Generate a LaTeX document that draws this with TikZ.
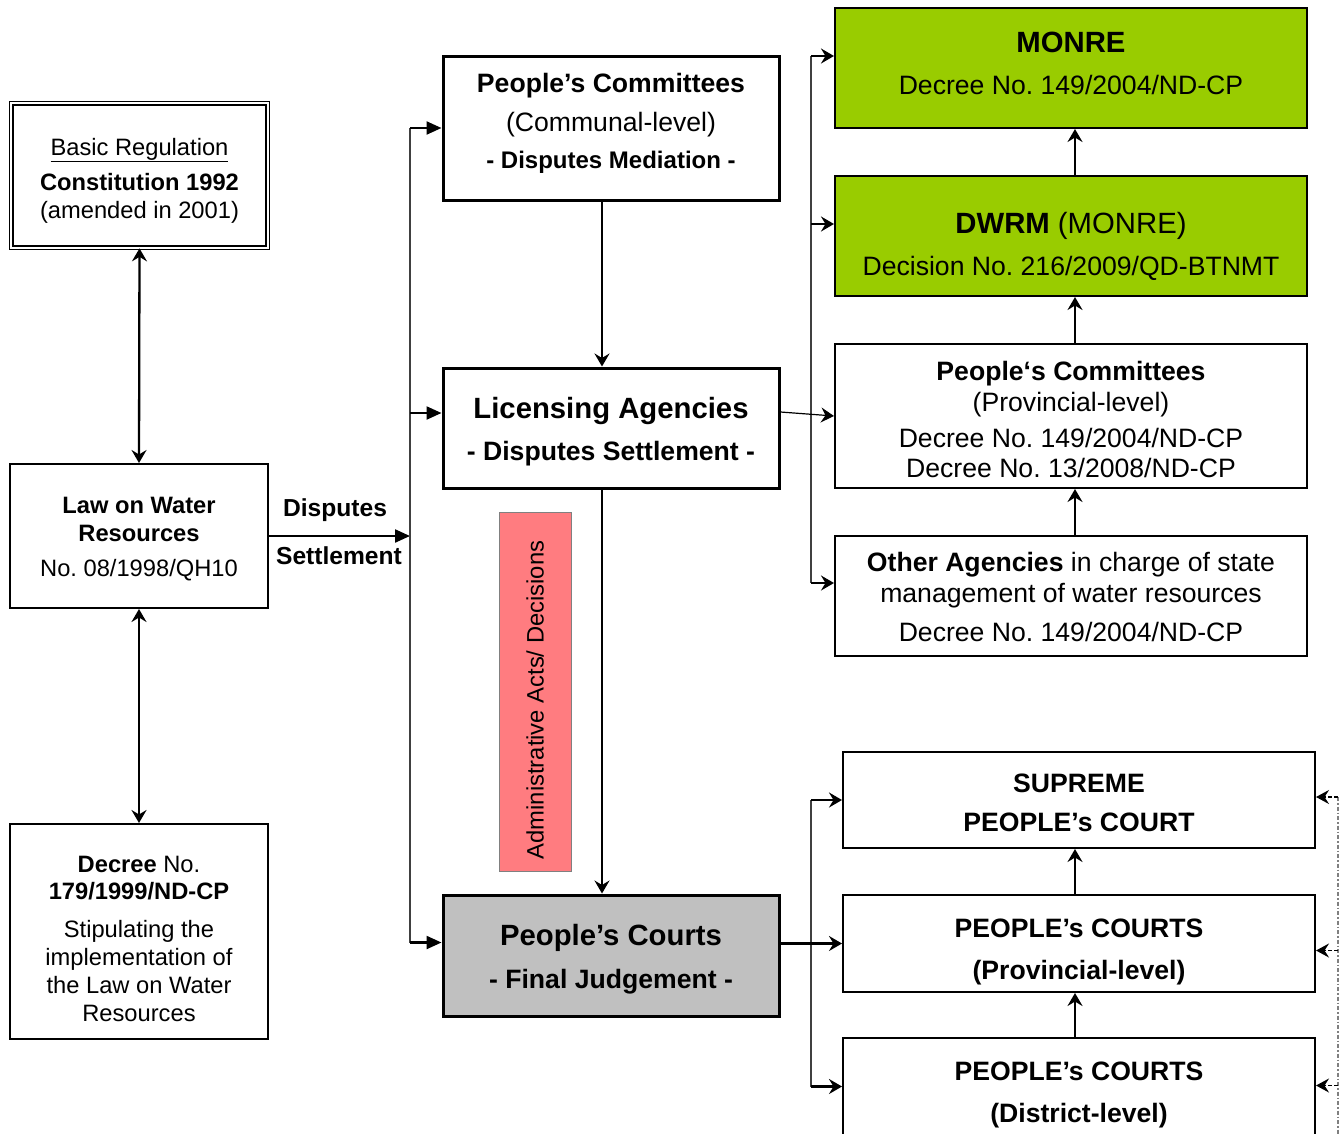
\documentclass[tikz,border=0pt]{standalone}
\usepackage{fontspec}
\setmainfont{Liberation Sans}
\usetikzlibrary{arrows.meta,calc}
\definecolor{grn}{HTML}{99CC00}
\definecolor{salmon}{HTML}{FF7C80}
\definecolor{cgray}{HTML}{C0C0C0}
\definecolor{busgray}{HTML}{404040}
\newcommand{\fsz}[2]{\fontsize{#1}{#2}\selectfont}
\begin{document}
\frenchspacing
\begin{tikzpicture}[x=1pt,y=-1pt,
  lbox/.style={draw, line width=2pt, inner sep=0pt, minimum width=258pt},
  mbox/.style={draw, line width=3pt, inner sep=0pt, minimum width=336pt},
  rbox/.style={draw, line width=2pt, inner sep=0pt, minimum width=472pt},
  ltxt/.style={align=center, inner sep=0pt, font=\fsz{23.7}{28}},
  mtxt/.style={align=center, inner sep=0pt, font=\fsz{26.6}{32}},
  rtxt/.style={align=center, inner sep=0pt, font=\fsz{26.6}{30}},
  conn/.style={line width=2.3pt, -{Stealth[length=13pt,width=15pt,inset=4.5pt]}},
  dconn/.style={line width=2.3pt, {Stealth[length=13pt,width=15pt,inset=4.5pt]}-{Stealth[length=13pt,width=15pt,inset=4.5pt]}},
  busarr/.style={line width=2.3pt, -{Triangle[length=15pt,width=13pt]}},
  bus/.style={line width=1.6pt, draw=busgray},
  dstub/.style={line width=1.6pt, dash pattern=on 4pt off 2pt, -{Stealth[length=13pt,width=14pt,inset=4.5pt]}},
  dline/.style={line width=1.4pt, draw=gray, dash pattern=on 4pt off 2pt on 1.5pt off 2pt},
  lab/.style={inner sep=0pt, font=\bfseries\fsz{24.6}{28}}
]
\fill[white] (0,0) rectangle (1344,1133);
\clip (0,0) rectangle (1344,1133);

% left column
\node[draw, line width=1.3pt, double, double distance=2pt, inner sep=0pt,
      minimum width=256.4pt, minimum height=144.4pt] (basic) at (139.5,175.5) {};
\node[ltxt] (basict) at ($(basic.center)+(0,5)$)
  {\underline{Basic Regulation}\\[7pt]\textbf{Constitution 1992}\\(amended in 2001)};
\node[lbox, minimum height=144pt] (law) at (139,536) {};
\node[ltxt] (lawt) at ($(law.center)+(0,3)$)
  {\textbf{Law on Water}\\\textbf{Resources}\\[7pt]No. 08/1998/QH10};
\node[lbox, minimum height=215pt] (decree) at (139,931.5) {};
\node[ltxt] (decreet) at ($(decree.center)+(0,7)$)
  {\textbf{Decree} No.\\[-1pt]\textbf{179/1999/ND-CP}\\[10pt]Stipulating the\\implementation of\\the Law on Water\\Resources};

% middle column
\node[mbox, minimum height=144pt] (pc) at (611,128) {};
\node[mtxt] (pct) at ($(pc.center)+(0,-5)$)
  {\textbf{People’s Committees}\\[7pt](Communal-level)\\[5pt]{\bfseries\fsz{24}{32}- Disputes Mediation -}};
\node[mbox, minimum height=120pt] (la) at (611,428) {};
\node[mtxt] (lat) at ($(la.center)+(0,4)$)
  {{\bfseries\fsz{29.3}{35}Licensing Agencies}\\[10pt]\textbf{- Disputes Settlement -}};
\node[mbox, minimum height=121pt, fill=cgray] (courts) at (611,955.5) {};
\node[mtxt] (courtst) at ($(courts.center)+(0,4)$)
  {{\bfseries\fsz{29.3}{35}People’s Courts}\\[11pt]\textbf{- Final Judgement -}};
\node[draw=gray, line width=0.8pt, fill=salmon, rotate=90, minimum width=359pt, minimum height=72pt,
      inner sep=0pt, font=\fsz{23.8}{28}] (adm) at (535,691.5) {\hspace*{-17pt}Administrative Acts/ Decisions};

% right column
\node[rbox, minimum height=120pt, fill=grn] (monre) at (1071,68) {};
\node[rtxt] (monret) at ($(monre.center)+(0,-5)$)
  {{\bfseries\fsz{29.3}{35}MONRE}\\[12pt]Decree No. 149/2004/ND-CP};
\node[rbox, minimum height=120pt, fill=grn] (dwrm) at (1071,236) {};
\node[rtxt] (dwrmt) at ($(dwrm.center)+(0,10)$)
  {{\fsz{29.3}{35}\textbf{DWRM} (MONRE)}\\[12pt]Decision No. 216/2009/QD-BTNMT};
\node[rbox, minimum height=144pt] (pcp) at (1071,416) {};
\node[rtxt] (pcpt) at ($(pcp.center)+(0,3)$)
  {\textbf{People‘s Committees}\\[1pt](Provincial-level)\\[6pt]Decree No. 149/2004/ND-CP\\Decree No. 13/2008/ND-CP};
\node[rbox, minimum height=120pt] (other) at (1071,596) {};
\node[rtxt] (othert) at ($(other.center)+(0,1)$)
  {\textbf{Other Agencies} in charge of state\\[1pt]management of water resources\\[9pt]Decree No. 149/2004/ND-CP};

\node[rbox, minimum height=96pt] (supreme) at (1079,800) {};
\node[rtxt] (supremet) at ($(supreme.center)+(0,3)$)
  {\textbf{SUPREME}\\[9pt]\textbf{PEOPLE’s COURT}};
\node[rbox, minimum height=97pt] (prov) at (1079,943.5) {};
\node[rtxt] (provt) at ($(prov.center)+(0,8.5)$)
  {\textbf{PEOPLE’s COURTS}\\[12pt]\textbf{(Provincial-level)}};
\node[rbox, minimum height=97pt] (district) at (1079,1086.5) {};
\node[rtxt] (districtt) at ($(district.center)+(0,8.5)$)
  {\textbf{PEOPLE’s COURTS}\\[12pt]\textbf{(District-level)}};

% labels
\node[lab] (dlab) at (335,510) {Disputes};
\node[lab] (slab) at (339,556) {Settlement};

% coordinates
\coordinate (bl) at (410,0);
\coordinate (br) at (811,0);
\coordinate (cx) at (602,0);
\coordinate (ax) at (1075,0);
\coordinate (dr) at (1338,0);
\coordinate (lain) at ($(la.west)+(0,-15)$);
\coordinate (ctin) at ($(courts.west)+(0,-13)$);
\coordinate (monin) at ($(monre.west)+(0,-12)$);
\coordinate (dwin) at ($(dwrm.west)+(0,-12)$);
\coordinate (otin) at ($(other.west)+(0,-13)$);
\coordinate (laout) at ($(la.east)+(0,-16)$);
\coordinate (sin) at ($(supreme.east)+(0,-3)$);
\coordinate (pin) at ($(prov.east)+(0,7)$);
\coordinate (din) at ($(district.east)+(0,-1)$);
\coordinate (dend) at (1338,1140);

% left connectors
\draw[dconn] (basic.south) -- (law.north);
\draw[dconn] (law.south) -- (decree.north);
\draw[busarr] (law.east) -- (law.east -| bl);
\draw[bus] (pc.west -| bl) -- (ctin -| bl);
\draw[busarr] (pc.west -| bl) -- (pc.west);
\draw[busarr] (lain -| bl) -- (lain);
\draw[busarr] (ctin -| bl) -- (ctin);

% middle connectors
\draw[conn] (pc.south -| cx) -- (la.north -| cx);
\draw[conn] (la.south -| cx) -- (courts.north -| cx);

% right upper connectors
\draw[bus] (monin -| br) -- (otin -| br);
\draw[conn] (monin -| br) -- (monin);
\draw[conn] (dwin -| br) -- (dwin);
\draw[conn] (otin -| br) -- (otin);
\draw[conn, line width=1.2pt] (laout) -- (pcp.west);
\draw[conn] (dwrm.north -| ax) -- (monre.south -| ax);
\draw[conn] (pcp.north -| ax) -- (dwrm.south -| ax);
\draw[conn] (other.north -| ax) -- (pcp.south -| ax);

% right lower connectors
\draw[bus] (supreme.west -| br) -- (district.west -| br);
\draw[conn] (supreme.west -| br) -- (supreme.west);
\draw[conn] (district.west -| br) -- (district.west);
\draw[conn] (courts.east |- prov.west) -- (prov.west);
\draw[conn] (prov.north -| ax) -- (supreme.south -| ax);
\draw[conn] (district.north -| ax) -- (prov.south -| ax);

% dashed feedback
\draw[dline] (sin -| dr) -- (dend);
\draw[dstub] (sin -| dr) -- (sin);
\draw[dstub] (pin -| dr) -- (pin);
\draw[dstub] (din -| dr) -- (din);
\end{tikzpicture}
\end{document}
